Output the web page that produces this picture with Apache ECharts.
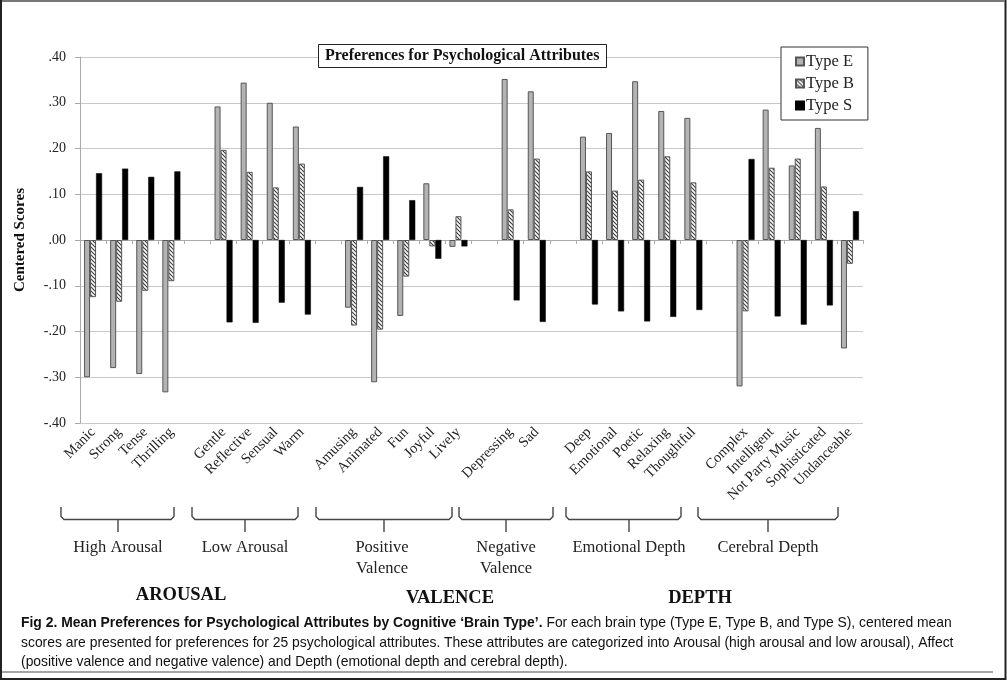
<!DOCTYPE html>
<html><head><meta charset="utf-8">
<script src="https://cdn.jsdelivr.net/npm/echarts@6/dist/echarts.min.js"></script>
<style>html,body{margin:0;padding:0;background:#fff}#c{width:1007px;height:681px}</style>
</head><body><div id="c"></div>
<script>
const categories = ['Manic','Strong','Tense','Thrilling','',
  'Gentle','Reflective','Sensual','Warm',' ',
  'Amusing','Animated','Fun','Joyful','Lively','  ',
  'Depressing','Sad','   ',
  'Deep','Emotional','Poetic','Relaxing','Thoughtful','    ',
  'Complex','Intelligent','Not Party Music','Sophisticated','Undanceable'];
const typeE = [-0.300,-0.280,-0.293,-0.333,null, 0.292,0.344,0.300,0.248,null, -0.148,-0.311,-0.166,0.124,-0.015,null, 0.352,0.325,null, 0.226,0.234,0.347,0.282,0.267,null, -0.320,0.285,0.163,0.245,-0.237];
const typeB = [-0.125,-0.135,-0.111,-0.090,null, 0.197,0.149,0.115,0.167,null, -0.187,-0.196,-0.080,-0.014,0.052,null, 0.067,0.178,null, 0.150,0.108,0.132,0.183,0.126,null, -0.156,0.158,0.178,0.117,-0.052];
const typeS = [0.146,0.156,0.138,0.150,null, -0.180,-0.181,-0.137,-0.163,null, 0.116,0.183,0.087,-0.041,-0.014,null, -0.132,-0.179,null, -0.141,-0.156,-0.178,-0.168,-0.153,null, 0.177,-0.167,-0.185,-0.143,0.063];
const seriesNames = ['Type E','Type B','Type S'];
const groupLabels = ['High Arousal','Low Arousal','Positive\nValence','Negative\nValence','Emotional Depth','Cerebral Depth'];
const domainLabels = ['AROUSAL','VALENCE','DEPTH'];
const captionLines = [
  ['Fig 2. Mean Preferences for Psychological Attributes by Cognitive \u2018Brain Type\u2019.', ' For each brain type (Type E, Type B, and Type S), centered mean'],
  ['', 'scores are presented for preferences for 25 psychological attributes. These attributes are categorized into Arousal (high arousal and low arousal), Affect'],
  ['', '(positive valence and negative valence) and Depth (emotional depth and cerebral depth).']
];

const SERIF = '"Liberation Serif","Times New Roman",serif';
const SANS = '"Liberation Sans Narrow","Liberation Sans",Arial,sans-serif';

// hatch pattern
const pc = document.createElement('canvas'); pc.width = 4; pc.height = 4;
const g = pc.getContext('2d');
g.fillStyle = '#fff'; g.fillRect(0,0,4,4);
g.strokeStyle = '#3a3a3a'; g.lineWidth = 1.1;
g.beginPath();
g.moveTo(0,0); g.lineTo(4,4);
g.moveTo(-2,2); g.lineTo(2,6);
g.moveTo(2,-2); g.lineTo(6,2);
g.stroke();

const chart = echarts.init(document.getElementById('c'), null, {renderer:'canvas'});

const bracketPos = [[61,174,118],[192,298,245],[316,452,384],[459,553,506],[566,681,629],[698,838,768]];
const groupLabelPos = [[118,548],[245,548],[382,558],[506,558],[629,548],[768,548]];
const domainPos = [[181,595],[450,598],[700,598]];

const graphics = [];
// frame
graphics.push({type:'rect', shape:{x:1,y:1,width:1004.5,height:678}, style:{fill:null, stroke:'#222', lineWidth:2}, silent:true, z:100});
graphics.push({type:'line', shape:{x1:2,y1:1,x2:1005,y2:1}, style:{stroke:'#777', lineWidth:2}, silent:true, z:101});
graphics.push({type:'line', shape:{x1:2,y1:672,x2:993,y2:672}, style:{stroke:'#888', lineWidth:1.5}, silent:true, z:101});
bracketPos.forEach(([x0,x1,xc]) => {
  graphics.push({type:'polyline', shape:{points:[[x0,507],[x0,516.5],[x0+3,519.5],[x1-3,519.5],[x1,516.5],[x1,507]]},
    style:{fill:null, stroke:'#444', lineWidth:1.4}, silent:true});
  graphics.push({type:'line', shape:{x1:xc,y1:519.5,x2:xc,y2:532},
    style:{stroke:'#444', lineWidth:1.4}, silent:true});
});
groupLabels.forEach((t,i) => {
  graphics.push({type:'text', x:groupLabelPos[i][0], y:groupLabelPos[i][1],
    style:{text:t, fontFamily:SERIF, fontSize:16.5, fill:'#222', textAlign:'center', textVerticalAlign:'middle', lineHeight:21}, silent:true});
});
domainLabels.forEach((t,i) => {
  graphics.push({type:'text', x:domainPos[i][0], y:domainPos[i][1],
    style:{text:t, fontFamily:SERIF, fontSize:18.5, fontWeight:'bold', fill:'#111', textAlign:'center', textVerticalAlign:'middle'}, silent:true});
});
const capY = [623, 643, 662];
captionLines.forEach((ln,i) => {
  const txt = (ln[0] ? '{b|' + ln[0] + '}' : '') + '{n|' + ln[1] + '}';
  graphics.push({type:'text', x:21, y:capY[i],
    style:{text:txt, textVerticalAlign:'middle', rich:{
      b:{fontFamily:SANS, fontSize:13.9, fontWeight:'bold', fill:'#111'},
      n:{fontFamily:SANS, fontSize:13.9, fill:'#111'}}}, silent:true});
});

function fmt(v){
  const s = Math.abs(v).toFixed(2).replace(/^0/, '');
  return v < -1e-9 ? '-' + s : s;
}

chart.setOption({
  animation:false,
  backgroundColor:'#fff',
  title:{text:'Preferences for Psychological Attributes', left:318, top:44,
    borderWidth:1, borderColor:'#222', backgroundColor:'#fff', padding:[4,7,4,7],
    textStyle:{fontFamily:SERIF, fontWeight:'bold', fontSize:16, color:'#111'}},
  legend:{data:seriesNames, orient:'vertical', left:781, top:47,
    borderColor:'#333', borderWidth:1, backgroundColor:'#fff', padding:[6,14,6,14],
    itemGap:5, itemWidth:8, itemHeight:8, icon:'rect',
    textStyle:{fontFamily:SERIF, fontSize:16.5, color:'#222', padding:[0,0,0,-3]}},
  grid:{left:80, right:144, top:57, bottom:258, containLabel:false},
  xAxis:[
    {type:'category', data:categories, axisLine:{onZero:true, lineStyle:{color:'#aaa', width:1}},
     axisTick:{show:true, interval:0, length:4, lineStyle:{color:'#aaa'}}, axisLabel:{show:false}, splitLine:{show:false}},
    {type:'category', data:categories, position:'bottom', axisLine:{show:false, onZero:false}, axisTick:{show:false},
     axisLabel:{show:true, interval:0, rotate:45, margin:7, fontFamily:SERIF, fontSize:14.5, color:'#222'}, splitLine:{show:false}}
  ],
  yAxis:{type:'value', min:-0.4, max:0.4, interval:0.1,
    name:'Centered Scores', nameLocation:'middle', nameGap:52, nameRotate:90,
    nameTextStyle:{fontFamily:SERIF, fontWeight:'bold', fontSize:15, color:'#111'},
    axisLine:{show:true, lineStyle:{color:'#aaa'}}, axisTick:{show:true, length:5, lineStyle:{color:'#aaa'}},
    axisLabel:{formatter:fmt, fontFamily:SERIF, fontSize:14, color:'#222', margin:14},
    splitLine:{lineStyle:{color:'#c9c9c9', width:1.2}}},
  series:[
    {name:'Type E', type:'bar', data:typeE, barWidth:6, barGap:'0%',
     itemStyle:{color:'#b3b3b3', borderColor:'#555', borderWidth:1}},
    {name:'Type B', type:'bar', data:typeB, barWidth:6, barGap:'0%',
     itemStyle:{color:{image:pc, repeat:'repeat'}, borderColor:'#555', borderWidth:1}},
    {name:'Type S', type:'bar', data:typeS, barWidth:6, barGap:'0%',
     itemStyle:{color:'#000', borderColor:'#000', borderWidth:0.5}}
  ],
  graphic:graphics
});
</script></body></html>
